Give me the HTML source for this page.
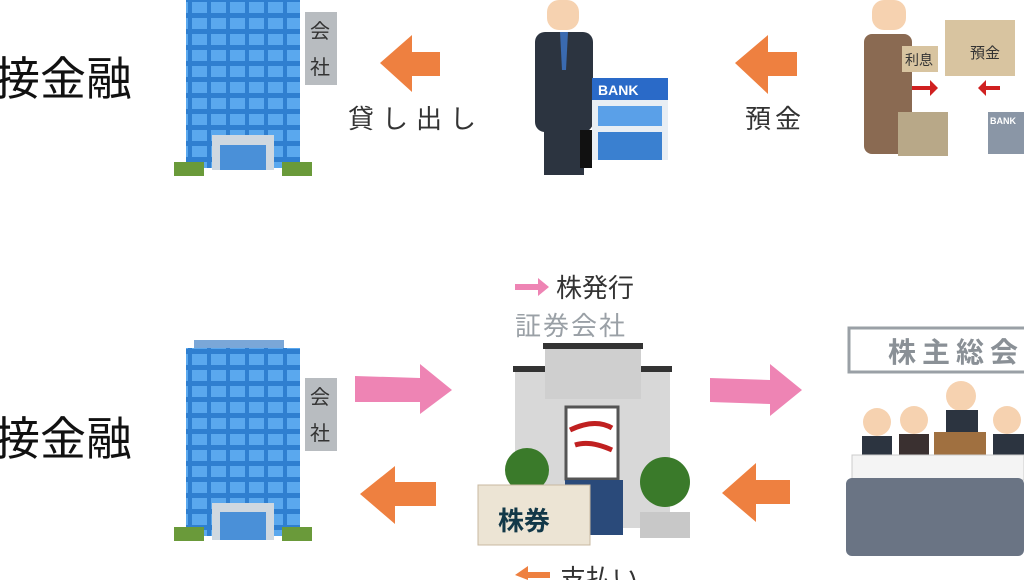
<!DOCTYPE html>
<html><head><meta charset="utf-8"><style>
body{margin:0;width:1024px;height:580px;overflow:hidden;background:#fff;font-family:"Liberation Sans","Noto Sans CJK JP",sans-serif}
svg{position:absolute;left:0;top:0}
</style></head><body>
<svg width="1024" height="580" viewBox="0 0 1024 580" xmlns="http://www.w3.org/2000/svg" font-family="Liberation Sans, Noto Sans CJK JP, sans-serif">
<defs>
<pattern id="win" width="19" height="16" patternUnits="userSpaceOnUse"><rect width="19" height="16" fill="#2f7fd0"/><rect x="2" y="2" width="15" height="11" fill="#5aa8ee"/></pattern>
</defs>
<text x="-6" y="95" font-size="46" fill="#111">接金融</text>
<text x="-6" y="455" font-size="46" fill="#111">接金融</text>
<rect x="186" y="0" width="114" height="168" fill="url(#win)"/>
<rect x="212" y="135" width="62" height="35" fill="#cfd8e0"/><rect x="220" y="145" width="46" height="25" fill="#4a90d8"/>
<rect x="174" y="162" width="30" height="14" fill="#6a9a3a"/><rect x="282" y="162" width="30" height="14" fill="#6a9a3a"/>
<rect x="305" y="12" width="32" height="73" fill="#b8bcc0"/><text x="310" y="38" font-size="20" fill="#333">会</text><text x="310" y="74" font-size="20" fill="#333">社</text>
<rect x="194" y="340" width="90" height="8" fill="#7aa7d8"/>
<rect x="186" y="348" width="114" height="188" fill="url(#win)"/>
<rect x="212" y="503" width="62" height="37" fill="#cfd8e0"/><rect x="220" y="512" width="46" height="28" fill="#4a90d8"/>
<rect x="174" y="527" width="30" height="14" fill="#6a9a3a"/><rect x="282" y="527" width="30" height="14" fill="#6a9a3a"/>
<rect x="305" y="378" width="32" height="73" fill="#b8bcc0"/><text x="310" y="404" font-size="20" fill="#333">会</text><text x="310" y="440" font-size="20" fill="#333">社</text>
<polygon points="380,63 412,35 412,52 440,52 440,76 412,76 412,92" fill="#ee8040"/>
<text x="348" y="128" font-size="26" fill="#333" letter-spacing="8">貸し出し</text>
<polygon points="735,63 768,35 768,52 797,52 797,76 768,76 768,94" fill="#ee8040"/>
<text x="745" y="128" font-size="26" fill="#333" letter-spacing="4">預金</text>
<rect x="547" y="0" width="32" height="30" rx="12" fill="#f6d2b0"/>
<rect x="535" y="32" width="58" height="100" rx="10" fill="#2c3440"/>
<rect x="544" y="130" width="40" height="45" fill="#2c3440"/>
<polygon points="560,32 568,32 566,70 562,70" fill="#3a6ab0"/>
<rect x="580" y="130" width="12" height="38" fill="#111"/>
<rect x="592" y="78" width="76" height="82" fill="#e8eef4"/><rect x="592" y="78" width="76" height="22" fill="#2a6ac8"/>
<text x="598" y="95" font-size="14" font-weight="bold" fill="#fff">BANK</text>
<rect x="598" y="106" width="64" height="20" fill="#5aa0e8"/><rect x="598" y="132" width="64" height="28" fill="#3a80d0"/>
<rect x="872" y="0" width="34" height="30" rx="12" fill="#f6d2b0"/>
<rect x="864" y="34" width="48" height="120" rx="8" fill="#8a6a52"/>
<rect x="902" y="46" width="36" height="26" fill="#d8c4a0"/><text x="905" y="65" font-size="14" fill="#333">利息</text>
<rect x="945" y="20" width="70" height="56" fill="#d8c4a0"/><text x="970" y="58" font-size="15" fill="#333">預金</text>
<polygon points="912,86 930,86 930,80 938,88 930,96 930,90 912,90" fill="#d02020"/>
<polygon points="978,88 986,80 986,86 1000,86 1000,90 986,90 986,96" fill="#d02020"/>
<rect x="898" y="112" width="50" height="44" fill="#b8a888"/>
<rect x="988" y="112" width="36" height="42" fill="#8a96a6"/><text x="990" y="124" font-size="9" fill="#fff" font-weight="bold">BANK</text>
<polygon points="355,376 420,378 420,364 452,390 420,414 420,402 355,402" fill="#ee84b4"/>
<polygon points="360,494 395,466 395,482 436,482 436,506 395,506 395,524" fill="#ee8040"/>
<polygon points="710,378 770,380 770,364 802,390 770,416 770,404 710,402" fill="#ee84b4"/>
<polygon points="722,493 756,463 756,480 790,480 790,504 756,504 756,522" fill="#ee8040"/>
<polygon points="515,284 538,284 538,278 549,287 538,296 538,290 515,290" fill="#ee84b4"/>
<text x="556" y="297" font-size="26" fill="#333">株発行</text>
<text x="515" y="335" font-size="26" fill="#9aa0a6" letter-spacing="2">証券会社</text>
<polygon points="515,575 528,566 528,572 550,572 550,578 528,578 528,580" fill="#ee8040"/>
<text x="560" y="588" font-size="26" fill="#333">支払い</text>
<rect x="515" y="368" width="155" height="160" fill="#d8d8d8"/>
<rect x="513" y="366" width="159" height="6" fill="#333"/>
<rect x="543" y="343" width="100" height="6" fill="#333"/>
<rect x="545" y="349" width="96" height="50" fill="#cfcfcf"/>
<rect x="566" y="407" width="52" height="72" fill="#fff" stroke="#555" stroke-width="3"/>
<path d="M570,430 Q595,418 612,428" stroke="#c02020" stroke-width="5" fill="none"/>
<path d="M612,450 Q590,440 575,445" stroke="#c02020" stroke-width="5" fill="none"/>
<rect x="565" y="480" width="58" height="55" fill="#2a4a7a"/>
<circle cx="527" cy="470" r="22" fill="#3a7a2a"/><circle cx="665" cy="482" r="25" fill="#3a7a2a"/>
<rect x="640" y="512" width="50" height="26" fill="#c8c8c8"/>
<rect x="478" y="485" width="112" height="60" fill="#ece4d4" stroke="#c8b8a0"/>
<text x="498" y="530" font-size="26" font-weight="bold" fill="#123848">株券</text>
<rect x="849" y="328" width="190" height="44" fill="#fff" stroke="#9aa0a6" stroke-width="3"/>
<text x="888" y="362" font-size="28" font-weight="bold" fill="#8a9096" letter-spacing="6">株主総会</text>
<circle cx="877" cy="422" r="14" fill="#f6d2b0"/><rect x="862" y="436" width="30" height="20" fill="#2c3440"/>
<circle cx="914" cy="420" r="14" fill="#f6d2b0"/><rect x="899" y="434" width="30" height="22" fill="#3a3030"/>
<circle cx="961" cy="396" r="15" fill="#f6d2b0"/><rect x="946" y="410" width="32" height="24" fill="#2c3440"/>
<rect x="934" y="432" width="52" height="50" fill="#a07040"/>
<circle cx="1007" cy="420" r="14" fill="#f6d2b0"/><rect x="993" y="434" width="31" height="22" fill="#2c3440"/>
<rect x="852" y="455" width="172" height="25" fill="#f4f4f4" stroke="#ccc"/>
<rect x="846" y="478" width="178" height="78" rx="6" fill="#6a7484"/>
</svg>
</body></html>
